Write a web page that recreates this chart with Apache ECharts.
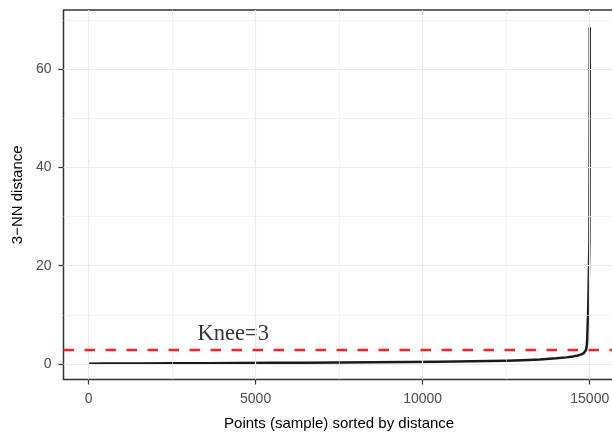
<!DOCTYPE html>
<html>
<head>
<meta charset="utf-8">
<script src="https://cdn.jsdelivr.net/npm/echarts@6/dist/echarts.min.js"></script>
<style>
  html, body { margin: 0; padding: 0; background: #ffffff; overflow: hidden; width: 612px; height: 433px; }
  /* the panel runs a few pixels past the right edge of the page */
  #chart { width: 616px; height: 433px; }
</style>
</head>
<body>
<div id="chart"></div>
<script>
// Sorted 3-NN distances: point rank (after sorting) and its distance
const pointRank = [1, 500, 1500, 2500, 3500, 4500, 5500, 6500, 7500, 8500, 9500,
  10500, 11500, 12000, 12500, 13000, 13500, 14000, 14300, 14500, 14650, 14750,
  14820, 14860, 14890, 14910, 14925, 14935, 14950, 14965, 14978, 14990, 14996,
  14999, 15000];
const knnDistance = [0.05, 0.08, 0.12, 0.15, 0.18, 0.21, 0.24, 0.28, 0.32, 0.36, 0.41,
  0.47, 0.55, 0.6, 0.67, 0.77, 0.92, 1.15, 1.35, 1.55, 1.75, 1.95,
  2.2, 2.5, 2.9, 3.6, 5.0, 7.5, 10, 15, 20, 25, 40,
  55, 68.5];

// Knee threshold and where its annotation sits
const kneeValue = 3;
const kneeLabelAt = [4330, 6];

// Axis ticks and grid positions
const xMajorTicks = [0, 5000, 10000, 15000];
const xMinorTicks = [2500, 7500, 12500];
const yMajorTicks = [0, 20, 40, 60];
const yMinorTicks = [10, 30, 50, 70];

const curveData = pointRank.map((r, i) => [r, knnDistance[i]]);

const gridColor = '#EBEBEB';
const gridLines = [].concat(
  xMinorTicks.map(v => ({ xAxis: v, lineStyle: { width: 0.6 } })),
  yMinorTicks.map(v => ({ yAxis: v, lineStyle: { width: 0.6 } })),
  xMajorTicks.map(v => ({ xAxis: v, lineStyle: { width: 1.2 } })),
  yMajorTicks.map(v => ({ yAxis: v, lineStyle: { width: 1.2 } }))
);

const sans = '"Liberation Sans", Arial, Helvetica, sans-serif';
const plain = v => String(v);

const chart = echarts.init(document.getElementById('chart'), null, { renderer: 'canvas' });
chart.setOption({
  animation: false,
  backgroundColor: '#ffffff',
  textStyle: { fontFamily: sans },
  grid: {
    left: 63.5, top: 10, right: 1.2, bottom: 53.5,
    outerBoundsMode: 'none',
    containLabel: false,
    show: true, borderColor: '#333333', borderWidth: 1.5, backgroundColor: '#ffffff'
  },
  xAxis: {
    type: 'value',
    min: -750, max: 15750,
    name: 'Points (sample) sorted by distance',
    nameLocation: 'middle',
    nameGap: 37,
    nameTextStyle: { fontSize: 15, color: '#000000', fontFamily: sans },
    axisLine: { show: false, onZero: false },
    axisTick: { show: true, length: 5, customValues: xMajorTicks, lineStyle: { color: '#333333', width: 1.2 } },
    axisLabel: { customValues: xMajorTicks, formatter: plain, margin: 12.5, fontSize: 14, color: '#4D4D4D', fontFamily: sans },
    splitLine: { show: false }
  },
  yAxis: {
    type: 'value',
    min: -3.15, max: 72,
    name: '3\u2212NN distance',
    nameLocation: 'middle',
    nameGap: 38.5,
    nameTextStyle: { fontSize: 15, color: '#000000', fontFamily: sans },
    axisLine: { show: false, onZero: false },
    axisTick: { show: true, length: 5, customValues: yMajorTicks, lineStyle: { color: '#333333', width: 1.2 } },
    axisLabel: { customValues: yMajorTicks, formatter: plain, margin: 12, fontSize: 14, color: '#4D4D4D', fontFamily: sans },
    splitLine: { show: false }
  },
  series: [
    {
      // panel grid lines
      type: 'line',
      data: [],
      z: 1,
      silent: true,
      markLine: {
        silent: true,
        symbol: ['none', 'none'],
        label: { show: false },
        lineStyle: { color: gridColor, type: 'solid', width: 1.2 },
        emphasis: { disabled: true },
        data: gridLines
      }
    },
    {
      // sorted k-NN distance curve
      type: 'line',
      data: curveData,
      z: 3,
      showSymbol: false,
      smooth: false,
      lineStyle: { color: '#1a1a1a', width: 2.5, join: 'round', cap: 'butt' },
      silent: true
    },
    {
      // knee threshold line and its annotation
      type: 'scatter',
      z: 4,
      silent: true,
      symbolSize: 0,
      data: [kneeLabelAt],
      label: {
        show: true,
        position: 'inside',
        formatter: () => 'Knee=' + kneeValue,
        fontFamily: '"Liberation Serif", "Times New Roman", serif',
        fontSize: 22.5,
        color: '#000000'
      },
      markLine: {
        silent: true,
        symbol: ['none', 'none'],
        label: { show: false },
        emphasis: { disabled: true },
        lineStyle: { color: '#f5222d', type: [10.5, 10.5], width: 2.4 },
        data: [{ yAxis: kneeValue }]
      }
    }
  ]
});
</script>
</body>
</html>
